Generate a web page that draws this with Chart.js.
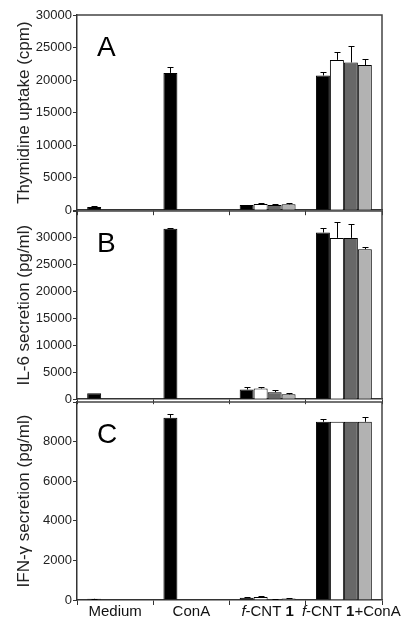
<!DOCTYPE html>
<html lang="en">
<head>
<meta charset="UTF-8" />
<title>Thymidine, IL-6 and IFN-γ</title>
<script src="https://cdn.jsdelivr.net/npm/chart.js@4.4.1/dist/chart.umd.min.js"></script>
<style>
  body { margin: 0; background: #fff; }
  #wrap { position: relative; width: 409px; height: 619px; }
  canvas { position: absolute; left: 0; }
</style>
</head>
<body>
<div id="wrap">
  <canvas id="chartA"></canvas>
  <canvas id="chartB"></canvas>
  <canvas id="chartC"></canvas>
</div>
<script>
// categories on the x axis
const categories = ['Medium', 'ConA', 'f-CNT 1', 'f-CNT 1+ConA'];

// one row per bar series (black, white, dark grey, light grey), one column per category
const thymidine = [
  [500, 21100, 800, 20700],
  [null, null, 950, 23100],
  [null, null, 800, 22700],
  [null, null, 900, 22300]
];
const thymidineErr = [
  [80, 880, 50, 550],
  [null, null, 200, 1200],
  [null, null, 150, 2500],
  [null, null, 250, 900]
];

const il6 = [
  [1100, 31700, 1800, 31000],
  [null, null, 2000, 30000],
  [null, null, 1300, 30000],
  [null, null, 900, 27900]
];
const il6Err = [
  [0, 150, 550, 750],
  [null, null, 200, 2900],
  [null, null, 400, 2500],
  [null, null, 200, 400]
];

const ifnGamma = [
  [60, 9200, 110, 9000],
  [null, null, 150, 9000],
  [null, null, 40, 9000],
  [null, null, 80, 9000]
];
const ifnGammaErr = [
  [10, 170, 20, 150],
  [null, null, 60, 0],
  [null, null, 10, 0],
  [null, null, 20, 220]
];

const barColors = ['#000000', '#ffffff', '#686868', '#b2b2b2'];

Chart.defaults.font.family = '"Liberation Sans", Arial, sans-serif';
Chart.defaults.color = '#222';

// upper error bars
const errorBars = {
  id: 'errorBars',
  afterDatasetsDraw(chart) {
    const ctx = chart.ctx;
    const y = chart.scales.y;
    ctx.save();
    ctx.strokeStyle = '#000';
    ctx.lineWidth = 1;
    chart.data.datasets.forEach((ds, i) => {
      chart.getDatasetMeta(i).data.forEach((bar, j) => {
        const v = ds.data[j], e = ds.errors[j];
        if (v == null || !e) return;
        const top = Math.round(y.getPixelForValue(v + e)) + 0.5;
        const x = Math.round(bar.x) + 0.5;
        ctx.beginPath();
        ctx.moveTo(x, bar.y);
        ctx.lineTo(x, top);
        ctx.moveTo(x - 3, top);
        ctx.lineTo(x + 3, top);
        ctx.stroke();
      });
    });
    ctx.restore();
  }
};

// frame round the plot area and the panel letter
const frame = {
  id: 'frame',
  afterDraw(chart, args, opts) {
    const { ctx, chartArea: a } = chart;
    ctx.save();
    ctx.strokeStyle = '#444';
    ctx.lineWidth = 1.5;
    ctx.beginPath();
    ctx.moveTo(a.left, a.top);
    ctx.lineTo(a.right, a.top);
    ctx.lineTo(a.right, a.bottom);
    ctx.stroke();
    ctx.fillStyle = '#000';
    ctx.font = '28px "Liberation Sans", Arial, sans-serif';
    ctx.textBaseline = 'alphabetic';
    ctx.fillText(opts.letter, a.left + 20, a.top + 41);
    ctx.restore();
  }
};

// x labels with italic f and bold 1
function labelParts(label) {
  return label.split(/(^f(?=-)|\b1\b)/).filter(s => s).map(s => ({
    text: s,
    style: s === 'f' ? 'italic ' : '',
    weight: s === '1' ? 'bold ' : ''
  }));
}
const richLabels = {
  id: 'richLabels',
  afterDraw(chart, args, opts) {
    if (!opts.show) return;
    const ctx = chart.ctx;
    const x = chart.scales.x;
    const base = chart.chartArea.bottom + 16;
    ctx.save();
    ctx.fillStyle = '#111';
    ctx.textBaseline = 'alphabetic';
    let prevRight = -Infinity;
    categories.forEach((cat, i) => {
      const parts = labelParts(cat);
      let w = 0;
      parts.forEach(p => {
        ctx.font = p.style + p.weight + '15px "Liberation Sans", Arial, sans-serif';
        p.w = ctx.measureText(p.text).width;
        w += p.w;
      });
      let left = x.getPixelForTick(i) - w / 2;
      if (left < prevRight + 8) left = prevRight + 8;
      let cx = left;
      parts.forEach(p => {
        ctx.font = p.style + p.weight + '15px "Liberation Sans", Arial, sans-serif';
        ctx.fillText(p.text, cx, base);
        cx += p.w;
      });
      prevRight = left + w;
    });
    ctx.restore();
  }
};

function makePanel(id, top, height, padTop, padBottom, values, errors, max, step, title, letter, showLabels) {
  const canvas = document.getElementById(id);
  canvas.width = 409;
  canvas.height = height;
  canvas.style.top = top + 'px';
  return new Chart(canvas, {
    type: 'bar',
    data: {
      labels: categories,
      datasets: values.map((vals, i) => ({
        data: vals,
        errors: errors[i],
        backgroundColor: barColors[i],
        borderColor: '#000',
        borderWidth: 1,
        borderSkipped: 'start',
        categoryPercentage: 0.733,
        barPercentage: 1
      }))
    },
    options: {
      responsive: false,
      animation: false,
      events: [],
      layout: { padding: { top: padTop, bottom: padBottom, left: 0, right: 27 } },
      plugins: {
        legend: { display: false },
        tooltip: { enabled: false },
        frame: { letter: letter },
        richLabels: { show: showLabels }
      },
      scales: {
        x: {
          grid: { offset: true, drawOnChartArea: false, drawTicks: true, tickLength: 5, color: '#333' },
          border: { color: '#333', width: 1.5 },
          ticks: { display: false },
          afterFit: s => { s.height = 6; }
        },
        y: {
          min: 0,
          max: max,
          grid: { drawOnChartArea: false, drawTicks: true, tickLength: 4, color: '#333' },
          border: { color: '#333', width: 1.5 },
          ticks: {
            stepSize: step,
            padding: 1,
            font: { size: 13 },
            color: '#222',
            callback: v => (v === max && max % 10000 !== 0 || v === max && step === 2000) ? '' : v
          },
          title: {
            display: true,
            text: title,
            font: { size: 17 },
            color: '#222',
            padding: { top: 14, bottom: 0 }
          },
          afterFit: s => { s.width = 77; }
        }
      }
    },
    plugins: [errorBars, frame, richLabels]
  });
}

makePanel('chartA', 0, 219, 15, 0, thymidine, thymidineErr, 30000, 5000,
  'Thymidine uptake (cpm)', 'A', false);
makePanel('chartB', 197, 211, 14, 0, il6, il6Err, 35000, 5000,
  'IL-6 secretion (pg/ml)', 'B', false);
makePanel('chartC', 388, 231, 14, 13, ifnGamma, ifnGammaErr, 10000, 2000,
  'IFN-γ secretion (pg/ml)', 'C', true);
</script>
</body>
</html>
